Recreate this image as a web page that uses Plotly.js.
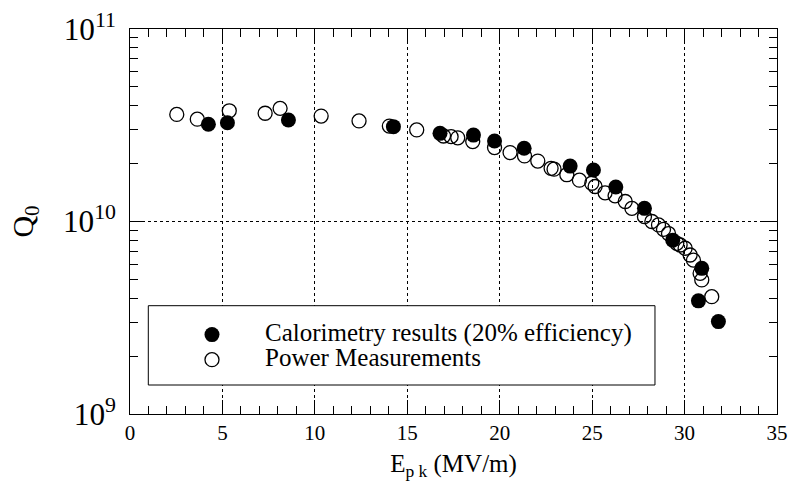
<!DOCTYPE html>
<html>
<head>
<meta charset="utf-8">
<script src="https://cdn.plot.ly/plotly-3.0.1.min.js"></script>
<style>html,body{margin:0;padding:0;background:#fff;}#chart{width:790px;height:489px;}</style>
</head>
<body>
<div id="chart"></div>
<script>
// Calorimetry results (20% efficiency)
const calE = [4.24, 5.27, 8.57, 14.25, 16.77, 18.58, 19.72, 21.32, 23.81, 25.07, 26.28, 27.83, 29.36, 30.93, 30.75, 31.83];
const calQ = [3.20e10, 3.26e10, 3.37e10, 3.11e10, 2.87e10, 2.81e10, 2.62e10, 2.40e10, 1.94e10, 1.85e10, 1.51e10, 1.17e10, 8.0e9, 5.71e9, 3.87e9, 3.02e9];

// Power Measurements
const powE = [2.53, 3.64, 5.37, 7.31, 8.12, 10.34, 12.39, 14.03, 15.51, 16.96, 17.37, 17.73, 18.54, 19.72, 20.56, 21.34, 22.06, 22.78, 22.94, 23.63, 24.31, 24.98, 25.16, 25.70, 26.24, 26.79, 27.15, 27.83, 28.23, 28.59, 28.86, 29.13, 29.58, 29.76, 30.03, 30.30, 30.48, 30.84, 30.93, 31.47];
const powQ = [3.60e10, 3.40e10, 3.76e10, 3.65e10, 3.87e10, 3.53e10, 3.33e10, 3.13e10, 2.99e10, 2.78e10, 2.76e10, 2.72e10, 2.60e10, 2.42e10, 2.28e10, 2.19e10, 2.06e10, 1.89e10, 1.87e10, 1.75e10, 1.64e10, 1.58e10, 1.52e10, 1.41e10, 1.36e10, 1.27e10, 1.17e10, 1.06e10, 1.00e10, 9.6e9, 9.1e9, 8.66e9, 7.7e9, 7.55e9, 7.26e9, 6.7e9, 6.3e9, 5.38e9, 4.97e9, 4.07e9];

const xTickVals = [0, 5, 10, 15, 20, 25, 30, 35];
const seriesNames = ['Calorimetry results (20% efficiency)', 'Power Measurements'];

const serif = 'Liberation Serif';

const traces = [
  {
    x: powE, y: powQ, type: 'scatter', mode: 'markers',
    name: '<span style="font-size:25px">' + seriesNames[1] + '</span>',
    legendrank: 2,
    marker: {symbol: 'circle-open', size: 14, color: '#000', line: {width: 1.3, color: '#000'}}
  },
  {
    x: calE, y: calQ, type: 'scatter', mode: 'markers',
    name: '<span style="font-size:25px">' + seriesNames[0] + '</span>',
    legendrank: 1,
    marker: {symbol: 'circle', size: 15, color: '#000'}
  }
];

const layout = {
  width: 790, height: 489,
  margin: {l: 130, r: 13, t: 29, b: 75},
  paper_bgcolor: '#fff', plot_bgcolor: '#fff',
  font: {family: serif, color: '#000'},
  showlegend: true,
  legend: {
    x: 0.0448, y: 0.2518, xanchor: 'left', yanchor: 'top',
    bgcolor: 'rgba(0,0,0,0)', borderwidth: 0,
    font: {family: serif, size: 17, color: '#000'},
    itemwidth: 96
  },
  xaxis: {
    range: [0, 35], tickvals: xTickVals, ticktext: xTickVals.map(String),
    ticks: 'inside', ticklen: 14, tickwidth: 1, tickcolor: '#000',
    showline: true, linecolor: '#000', linewidth: 1, mirror: 'allticks',
    showgrid: true, gridcolor: '#000', griddash: 'dot', gridwidth: 1,
    zeroline: false,
    tickfont: {family: serif, size: 21, color: '#000'},
    minor: {dtick: 1, tick0: 0, ticks: 'inside', ticklen: 8, tickcolor: '#000', showgrid: false},
    title: {text: 'E<sub>p k</sub> (MV/m)', font: {family: serif, size: 25, color: '#000'}, standoff: 10}
  },
  yaxis: {
    type: 'log', range: [9, 11], dtick: 1, exponentformat: 'power',
    ticks: 'inside', ticklen: 14, tickwidth: 1, tickcolor: '#000',
    showline: true, linecolor: '#000', linewidth: 1, mirror: 'allticks',
    showgrid: true, gridcolor: '#000', griddash: 'dot', gridwidth: 1,
    zeroline: false, ticklabelstandoff: 8,
    tickfont: {family: serif, size: 25, color: '#000'},
    minor: {dtick: 'D1', ticks: 'inside', ticklen: 8, tickcolor: '#000', showgrid: false},
    title: {text: 'Q<sub>0</sub>', font: {family: serif, size: 30, color: '#000'}, standoff: 20}
  },
  shapes: [
    {type: 'rect', xref: 'paper', yref: 'paper', x0: 0.0283, x1: 0.8114, y0: 0.0753, y1: 0.2813,
     fillcolor: '#fff', line: {color: '#000', width: 1}, layer: 'above'}
  ]
};

Plotly.newPlot('chart', traces, layout, {displayModeBar: false, staticPlot: true});
</script>
</body>
</html>
